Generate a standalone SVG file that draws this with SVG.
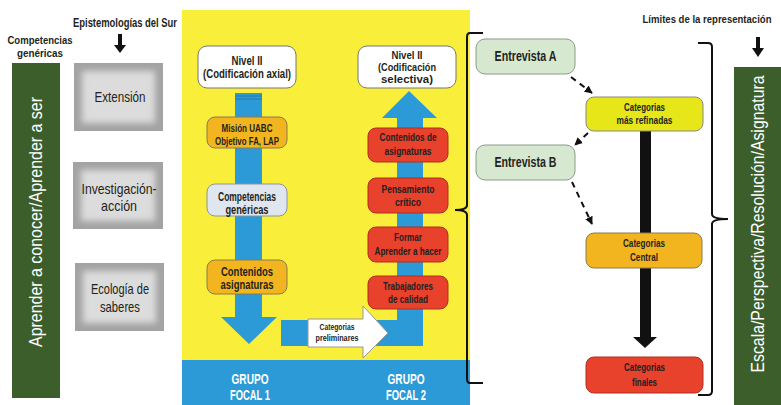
<svg xmlns="http://www.w3.org/2000/svg" width="781" height="405" viewBox="0 0 781 405">
<style>
text{font-family:"Liberation Sans",Arial,sans-serif;text-anchor:middle;fill:#231f20;font-weight:bold}
.n{font-weight:normal}
.w{fill:#fff}
.gbox{fill:#dcdcdc}
.nodew{fill:#fff;stroke:#777;stroke-width:1}
.org{fill:#f2b51f;stroke:#8a7a50;stroke-width:1}
.red{fill:#e8412c;stroke:#b03020;stroke-width:1}
.grn{fill:#d6e8d0;stroke:#8a9a88;stroke-width:1}
.blu{fill:#2b9ad6}
.brace{fill:none;stroke:#111;stroke-width:2}
.dash{fill:none;stroke:#111;stroke-width:2;stroke-dasharray:6 5}
</style>
<defs>
<filter id="blur" x="-20%" y="-20%" width="140%" height="140%"><feGaussianBlur stdDeviation="3"/></filter>
<marker id="ah" viewBox="0 0 10 10" refX="9" refY="5" markerWidth="4" markerHeight="4" orient="auto"><path d="M0,0L10,5L0,10z" fill="#111"/></marker>
</defs>
<rect width="781" height="405" fill="#fff"/>

<g id="lbl-competencias">
<text x="40" y="44" font-size="11.5" textLength="65" lengthAdjust="spacingAndGlyphs">Competencias</text>
<text x="40" y="57" font-size="11.5" textLength="46" lengthAdjust="spacingAndGlyphs">genéricas</text>
</g>
<g id="left-bar">
<rect x="12" y="63" width="48" height="335" fill="#3b5e2b"/>
<text class="w n" transform="translate(42,222) rotate(-90)" font-size="18" textLength="250" lengthAdjust="spacingAndGlyphs">Aprender a conocer/Aprender a ser</text>
</g>
<g id="lbl-epistemologias">
<text x="125" y="27" font-size="12" textLength="104" lengthAdjust="spacingAndGlyphs">Epistemologías del Sur</text>
<rect x="118" y="34" width="4" height="12" fill="#111"/>
<path d="M114,45L126,45L120,53z" fill="#111"/>
</g>
<g id="extension">
<rect x="74" y="63" width="89" height="68" fill="#a3a3a3"/>
<rect x="82" y="71" width="73" height="52" class="gbox" filter="url(#blur)"/>
<text class="n" x="120" y="102" font-size="15" textLength="51" lengthAdjust="spacingAndGlyphs">Extensión</text>
</g>
<g id="investigacion">
<rect x="73" y="162" width="90" height="67" fill="#a3a3a3"/>
<rect x="81" y="170" width="74" height="51" class="gbox" filter="url(#blur)"/>
<text class="n" x="119" y="194" font-size="15" textLength="75" lengthAdjust="spacingAndGlyphs">Investigación-</text>
<text class="n" x="119" y="211" font-size="15" textLength="36" lengthAdjust="spacingAndGlyphs">acción</text>
</g>
<g id="ecologia">
<rect x="75" y="263" width="89" height="68" fill="#a3a3a3"/>
<rect x="83" y="271" width="73" height="52" class="gbox" filter="url(#blur)"/>
<text class="n" x="120" y="294" font-size="15" textLength="58" lengthAdjust="spacingAndGlyphs">Ecología de</text>
<text class="n" x="120" y="312" font-size="15" textLength="40" lengthAdjust="spacingAndGlyphs">saberes</text>
</g>

<g id="panel">
<rect x="182" y="10" width="288" height="350" fill="#f9ef3b"/>
<rect x="182" y="360" width="288" height="45" class="blu"/>
<text class="w" x="250" y="384" font-size="14.5" textLength="37" lengthAdjust="spacingAndGlyphs">GRUPO</text>
<text class="w" x="250" y="400" font-size="14.5" textLength="40" lengthAdjust="spacingAndGlyphs">FOCAL 1</text>
<text class="w" x="406" y="384" font-size="14.5" textLength="37" lengthAdjust="spacingAndGlyphs">GRUPO</text>
<text class="w" x="406" y="400" font-size="14.5" textLength="40" lengthAdjust="spacingAndGlyphs">FOCAL 2</text>
</g>

<g id="connectors">
<path class="blu" d="M235,93L262,93L262,317L277,317L249,344L221,317L235,317z"/>
<path d="M235,96H262M235,99H262" stroke="#1f6fa0" stroke-width="0.8"/>
<path class="blu" d="M281,320L397,320L397,118L382,118L409,91L437,118L423,118L423,346L281,346z"/>
<path d="M308,319L363,319L363,306L388,333L363,358L363,347L308,347z" fill="#fff" stroke="#999" stroke-width="1"/>
<path class="dash" d="M571,77L592,93" marker-end="url(#ah)"/>
<path class="dash" d="M588,133L575,145" marker-end="url(#ah)"/>
<path class="dash" d="M572,182L592,224" marker-end="url(#ah)"/>
<rect x="640" y="131" width="11" height="102" fill="#111"/>
<rect x="640" y="268" width="11" height="70" fill="#111"/>
<path d="M633,337L657,337L645,348z" fill="#111"/>
<path class="brace" d="M483,33L470,33Q467,33 467,37L467,205Q467,210 455,210Q467,210 467,215L467,379Q467,383 470,383L483,383"/>
<path class="brace" d="M698,43L708,43Q712,43 712,47L712,214Q712,219 728,219Q712,219 712,224L712,391Q712,395 708,395L698,395"/>
<rect x="756" y="37" width="4" height="12" fill="#111"/>
<path d="M752,48L764,48L758,57z" fill="#111"/>
</g>

<text x="337" y="330" font-size="9" textLength="35" lengthAdjust="spacingAndGlyphs">Categorias</text>
<text x="337" y="341" font-size="9" textLength="43" lengthAdjust="spacingAndGlyphs">preliminares</text>

<g id="nivel-axial">
<rect x="198" y="46" width="98" height="42" rx="9" class="nodew"/>
<text x="247" y="65" font-size="12.5" textLength="31" lengthAdjust="spacingAndGlyphs">Nivel II</text>
<text x="247" y="78" font-size="12.5" textLength="88" lengthAdjust="spacingAndGlyphs">(Codificación axial)</text>
</g>
<g id="mision">
<rect x="207" y="117" width="80" height="31" rx="8" class="org"/>
<text x="247" y="132" font-size="10.5" textLength="51" lengthAdjust="spacingAndGlyphs">Misión UABC</text>
<text x="247" y="145" font-size="10.5" textLength="64" lengthAdjust="spacingAndGlyphs">Objetivo FA, LAP</text>
</g>
<g id="competencias">
<rect x="207" y="184" width="80" height="32" rx="8" fill="#dfe6f0" stroke="#8a94a0"/>
<text x="247" y="201" font-size="12" textLength="58" lengthAdjust="spacingAndGlyphs">Competencias</text>
<text x="247" y="214" font-size="12" textLength="43" lengthAdjust="spacingAndGlyphs">genéricas</text>
</g>
<g id="contenidos">
<rect x="207" y="260" width="80" height="34" rx="8" class="org"/>
<text x="247" y="276" font-size="12" textLength="52" lengthAdjust="spacingAndGlyphs">Contenidos</text>
<text x="247" y="289" font-size="12" textLength="53" lengthAdjust="spacingAndGlyphs">asignaturas</text>
</g>

<g id="nivel-selectiva">
<rect x="358" y="46" width="98" height="42" rx="9" class="nodew"/>
<text x="407" y="59" font-size="11" textLength="31" lengthAdjust="spacingAndGlyphs">Nivel II</text>
<text x="407" y="71" font-size="11" textLength="58" lengthAdjust="spacingAndGlyphs">(Codificación</text>
<text x="407" y="83" font-size="11" textLength="52" lengthAdjust="spacingAndGlyphs">selectiva)</text>
</g>
<g id="contenidos-asig">
<rect x="368" y="128" width="80" height="34" rx="8" class="red"/>
<text x="408" y="141" font-size="10.5" textLength="57" lengthAdjust="spacingAndGlyphs">Contenidos de</text>
<text x="408" y="155" font-size="10.5" textLength="47" lengthAdjust="spacingAndGlyphs">asignaturas</text>
</g>
<g id="pensamiento">
<rect x="368" y="178" width="80" height="35" rx="8" class="red"/>
<text x="408" y="193" font-size="10.5" textLength="53" lengthAdjust="spacingAndGlyphs">Pensamiento</text>
<text x="408" y="206" font-size="10.5" textLength="26" lengthAdjust="spacingAndGlyphs">crítico</text>
</g>
<g id="formar">
<rect x="368" y="227" width="80" height="35" rx="8" class="red"/>
<text x="408" y="241" font-size="10.5" textLength="28" lengthAdjust="spacingAndGlyphs">Formar</text>
<text x="408" y="255" font-size="10.5" textLength="67" lengthAdjust="spacingAndGlyphs">Aprender a hacer</text>
</g>
<g id="trabajadores">
<rect x="368" y="276" width="80" height="33" rx="8" class="red"/>
<text x="408" y="290" font-size="10.5" textLength="50" lengthAdjust="spacingAndGlyphs">Trabajadores</text>
<text x="408" y="303" font-size="10.5" textLength="40" lengthAdjust="spacingAndGlyphs">de calidad</text>
</g>

<g id="entrevista-a">
<rect x="476" y="39" width="99" height="35" rx="9" class="grn"/>
<text x="525.5" y="61" font-size="15" textLength="62" lengthAdjust="spacingAndGlyphs">Entrevista A</text>
</g>
<g id="entrevista-b">
<rect x="476" y="145" width="99" height="35" rx="9" class="grn"/>
<text x="525.5" y="167" font-size="15" textLength="62" lengthAdjust="spacingAndGlyphs">Entrevista B</text>
</g>
<g id="cat-refinadas">
<rect x="586" y="97" width="117" height="34" rx="8" fill="#e6e619" stroke="#888"/>
<text x="644.5" y="111" font-size="10" textLength="41" lengthAdjust="spacingAndGlyphs">Categorias</text>
<text x="644.5" y="124" font-size="10" textLength="56" lengthAdjust="spacingAndGlyphs">más refinadas</text>
</g>
<g id="cat-central">
<rect x="586" y="233" width="116" height="35" rx="8" class="org"/>
<text x="644" y="247" font-size="10" textLength="42" lengthAdjust="spacingAndGlyphs">Categorias</text>
<text x="644" y="261" font-size="10" textLength="28" lengthAdjust="spacingAndGlyphs">Central</text>
</g>
<g id="cat-finales">
<rect x="586" y="357" width="117" height="36" rx="8" class="red"/>
<text x="644.5" y="371" font-size="10" textLength="41" lengthAdjust="spacingAndGlyphs">Categorias</text>
<text x="644.5" y="386" font-size="10" textLength="25" lengthAdjust="spacingAndGlyphs">finales</text>
</g>

<g id="lbl-limites">
<text x="707" y="23" font-size="11.5" textLength="129" lengthAdjust="spacingAndGlyphs">Límites de la representación</text>
</g>
<g id="right-bar">
<rect x="734" y="67" width="47" height="338" fill="#3b5e2b"/>
<text class="w n" transform="translate(764,224) rotate(-90)" font-size="18" textLength="297" lengthAdjust="spacingAndGlyphs">Escala/Perspectiva/Resolución/Asignatura</text>
</g>
</svg>
